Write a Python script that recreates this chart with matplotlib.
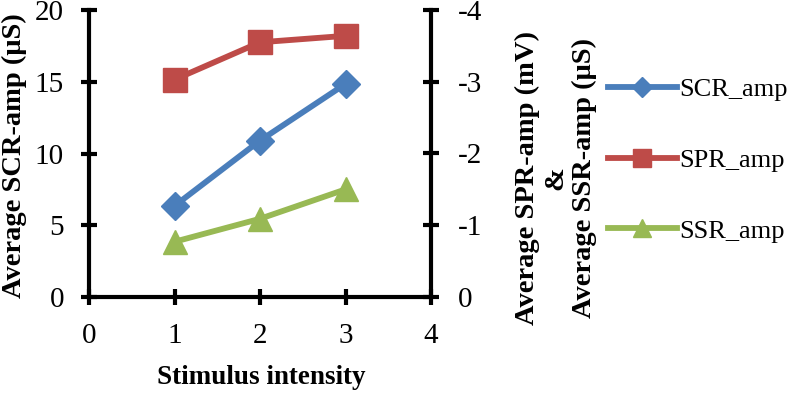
import matplotlib
matplotlib.use("Agg")
import matplotlib.pyplot as plt

plt.rcParams['font.family'] = ['Liberation Serif', 'DejaVu Serif']
plt.rcParams['axes.unicode_minus'] = False

intensity = [1, 2, 3]
scr_amp = [6.35, 10.9, 14.85]
spr_amp = [-3.03, -3.55, -3.64]
ssr_amp = [-0.77, -1.09, -1.5]

x_ticks = [0, 1, 2, 3, 4]
left_ticks = [0, 5, 10, 15, 20]
right_ticks = [0, -1, -2, -3, -4]

c_blue = '#4A7EBB'
c_red = '#BE4B48'
c_green = '#98B954'

W, H = 792, 393
fig = plt.figure(figsize=(W/100, H/100), dpi=100)
ax = fig.add_axes([89/W, 1-297/H, (431-89)/W, (297-10)/H])
ax2 = ax.twinx()

lw = 4.2
l1, = ax.plot(intensity, scr_amp, color=c_blue, lw=lw, marker='D', markersize=14,
              label='SCR_amp', zorder=3)
l2, = ax2.plot(intensity, spr_amp, color=c_red, lw=lw, marker='s', markersize=17,
               label='SPR_amp', zorder=3)
l3, = ax2.plot(intensity, ssr_amp, color=c_green, lw=lw, marker='^', markersize=17,
               label='SSR_amp', zorder=3)

ax.set_xlim(0, 4)
ax.set_ylim(0, 20)
ax2.set_ylim(0, -4)
ax.set_xticks(x_ticks)
ax.set_yticks(left_ticks)
ax2.set_yticks(right_ticks)
ax2.set_yticklabels([str(t) for t in right_ticks])

for a in (ax, ax2):
    a.spines['top'].set_visible(False)
    for s in a.spines.values():
        s.set_linewidth(3)
ax.spines['right'].set_visible(False)
ax2.spines['left'].set_visible(False)
ax2.spines['bottom'].set_visible(False)

ax.tick_params(axis='both', direction='inout', length=12, width=3, labelsize=21)
ax.tick_params(axis='x', pad=13)
ax.tick_params(axis='y', pad=12)
ax2.tick_params(axis='y', direction='inout', length=12, width=3, labelsize=21, pad=13)

fig.text(261/W, 1-377/H, 'Stimulus intensity', fontsize=19.5, fontweight='bold',
         ha='center', va='center')
fig.text(14/W, 1-156/H, 'Average SCR-amp (μS)', fontsize=20.5, fontweight='bold',
         ha='center', va='center', rotation=90)
fig.text(556/W, 1-178/H, 'Average SPR-amp (mV)\n&\nAverage SSR-amp (μS)', fontsize=20.5,
         fontweight='bold', ha='center', va='center', rotation=90, linespacing=1.2,
         multialignment='center')

fig.legend(handles=[l1, l2, l3], loc='center left', bbox_to_anchor=(608/W, 1-160/H),
           frameon=False, fontsize=19, handlelength=2.6, labelspacing=1.8,
           handletextpad=0.1, markerscale=0.75, borderpad=0, borderaxespad=0)

fig.savefig('out.png', dpi=100)
